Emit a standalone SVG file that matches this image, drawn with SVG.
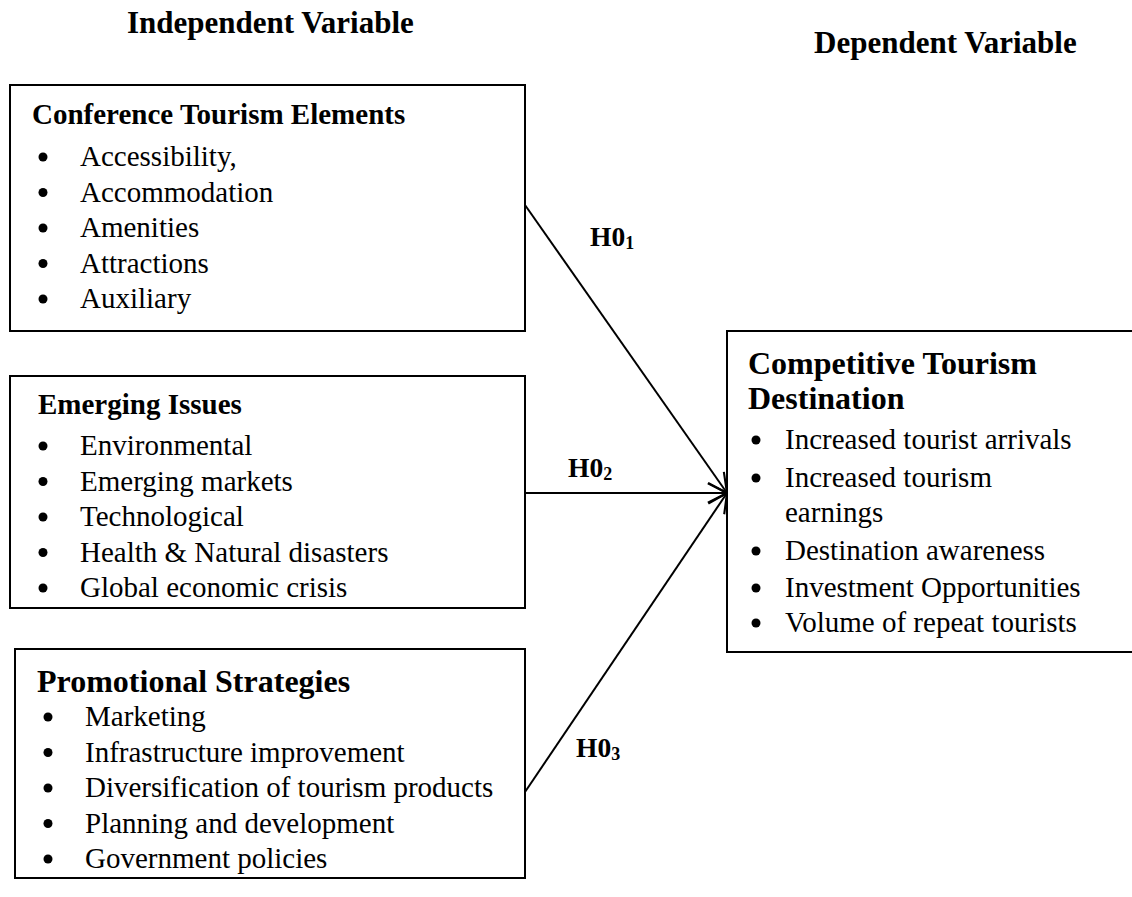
<svg xmlns="http://www.w3.org/2000/svg" width="1132" height="897" viewBox="0 0 1132 897">
  <style>
    .box { fill: #fff; stroke: #000; stroke-width: 2; }
    .hdr { font-family: "Liberation Serif", "Times New Roman", serif; font-weight: bold; font-size: 31px; fill: #000; }
    .ttl { font-family: "Liberation Serif", "Times New Roman", serif; font-weight: bold; font-size: 29px; fill: #000; }
    .ttl-lg { font-family: "Liberation Serif", "Times New Roman", serif; font-weight: bold; font-size: 32px; fill: #000; }
    .itm { font-family: "Liberation Serif", "Times New Roman", serif; font-size: 29px; fill: #000; }
    .hyp { font-family: "Liberation Serif", "Times New Roman", serif; font-weight: bold; font-size: 27.5px; fill: #000; }
    .sub { font-size: 18px; }
    .dot { fill: #000; }
    .link { stroke: #000; stroke-width: 2; fill: none; marker-end: url(#arrow); }
  </style>
  <defs>
    <marker id="arrow" viewBox="0 0 12 12" refX="11" refY="6" markerWidth="23" markerHeight="23" markerUnits="userSpaceOnUse" orient="auto">
      <path d="M1,1 L11,6 L1,11" fill="none" stroke="#000" stroke-width="1.1"/>
    </marker>
  </defs>

  <rect width="1132" height="897" fill="#fff"/>

  <!-- column headings -->
  <text class="hdr" x="127" y="33">Independent Variable</text>
  <text class="hdr" x="814" y="53">Dependent Variable</text>

  <!-- connectors -->
  <g id="connectors">
    <line class="link" x1="525" y1="205" x2="727" y2="493"/>
    <line class="link" x1="525" y1="493" x2="727" y2="493"/>
    <line class="link" x1="525" y1="792" x2="727" y2="493"/>
    <text class="hyp" x="590" y="246">H0<tspan class="sub" dy="3">1</tspan></text>
    <text class="hyp" x="568" y="477">H0<tspan class="sub" dy="3">2</tspan></text>
    <text class="hyp" x="576" y="757">H0<tspan class="sub" dy="3">3</tspan></text>
  </g>

  <!-- independent: conference tourism elements -->
  <g id="conference-elements">
    <rect class="box" x="10" y="85" width="515" height="246"/>
    <text class="ttl" x="32" y="124">Conference Tourism Elements</text>
    <circle class="dot" cx="43" cy="157" r="4.5"/>
    <text class="itm" x="80" y="166">Accessibility,</text>
    <circle class="dot" cx="43" cy="192.5" r="4.5"/>
    <text class="itm" x="80" y="201.5">Accommodation</text>
    <circle class="dot" cx="43" cy="228" r="4.5"/>
    <text class="itm" x="80" y="237">Amenities</text>
    <circle class="dot" cx="43" cy="263.5" r="4.5"/>
    <text class="itm" x="80" y="272.5">Attractions</text>
    <circle class="dot" cx="43" cy="299" r="4.5"/>
    <text class="itm" x="80" y="308">Auxiliary</text>
  </g>

  <!-- independent: emerging issues -->
  <g id="emerging-issues">
    <rect class="box" x="10" y="376" width="515" height="232"/>
    <text class="ttl" x="38" y="414">Emerging Issues</text>
    <circle class="dot" cx="43" cy="446" r="4.5"/>
    <text class="itm" x="80" y="455">Environmental</text>
    <circle class="dot" cx="43" cy="481.5" r="4.5"/>
    <text class="itm" x="80" y="490.5">Emerging markets</text>
    <circle class="dot" cx="43" cy="517" r="4.5"/>
    <text class="itm" x="80" y="526">Technological</text>
    <circle class="dot" cx="43" cy="552.5" r="4.5"/>
    <text class="itm" x="80" y="561.5">Health &amp; Natural disasters</text>
    <circle class="dot" cx="43" cy="588" r="4.5"/>
    <text class="itm" x="80" y="597">Global economic crisis</text>
  </g>

  <!-- independent: promotional strategies -->
  <g id="promotional-strategies">
    <rect class="box" x="15" y="649" width="510" height="229"/>
    <text class="ttl-lg" x="37" y="692">Promotional Strategies</text>
    <circle class="dot" cx="48" cy="717" r="4.5"/>
    <text class="itm" x="85" y="726">Marketing</text>
    <circle class="dot" cx="48" cy="752.5" r="4.5"/>
    <text class="itm" x="85" y="761.5">Infrastructure improvement</text>
    <circle class="dot" cx="48" cy="788" r="4.5"/>
    <text class="itm" x="85" y="797">Diversification of tourism products</text>
    <circle class="dot" cx="48" cy="823.5" r="4.5"/>
    <text class="itm" x="85" y="832.5">Planning and development</text>
    <circle class="dot" cx="48" cy="859" r="4.5"/>
    <text class="itm" x="85" y="868">Government policies</text>
  </g>

  <!-- dependent: competitive tourism destination -->
  <g id="competitive-destination">
    <rect class="box" x="727" y="331" width="410" height="321"/>
    <text class="ttl-lg" x="748" y="374">Competitive Tourism</text>
    <text class="ttl-lg" x="748" y="409">Destination</text>
    <circle class="dot" cx="756" cy="440" r="4.5"/>
    <text class="itm" x="785" y="449">Increased tourist arrivals</text>
    <circle class="dot" cx="756" cy="478" r="4.5"/>
    <text class="itm" x="785" y="487">Increased tourism</text>
    <text class="itm" x="785" y="522">earnings</text>
    <circle class="dot" cx="756" cy="551" r="4.5"/>
    <text class="itm" x="785" y="560">Destination awareness</text>
    <circle class="dot" cx="756" cy="588" r="4.5"/>
    <text class="itm" x="785" y="597">Investment Opportunities</text>
    <circle class="dot" cx="756" cy="623" r="4.5"/>
    <text class="itm" x="785" y="632">Volume of repeat tourists</text>
  </g>
</svg>
